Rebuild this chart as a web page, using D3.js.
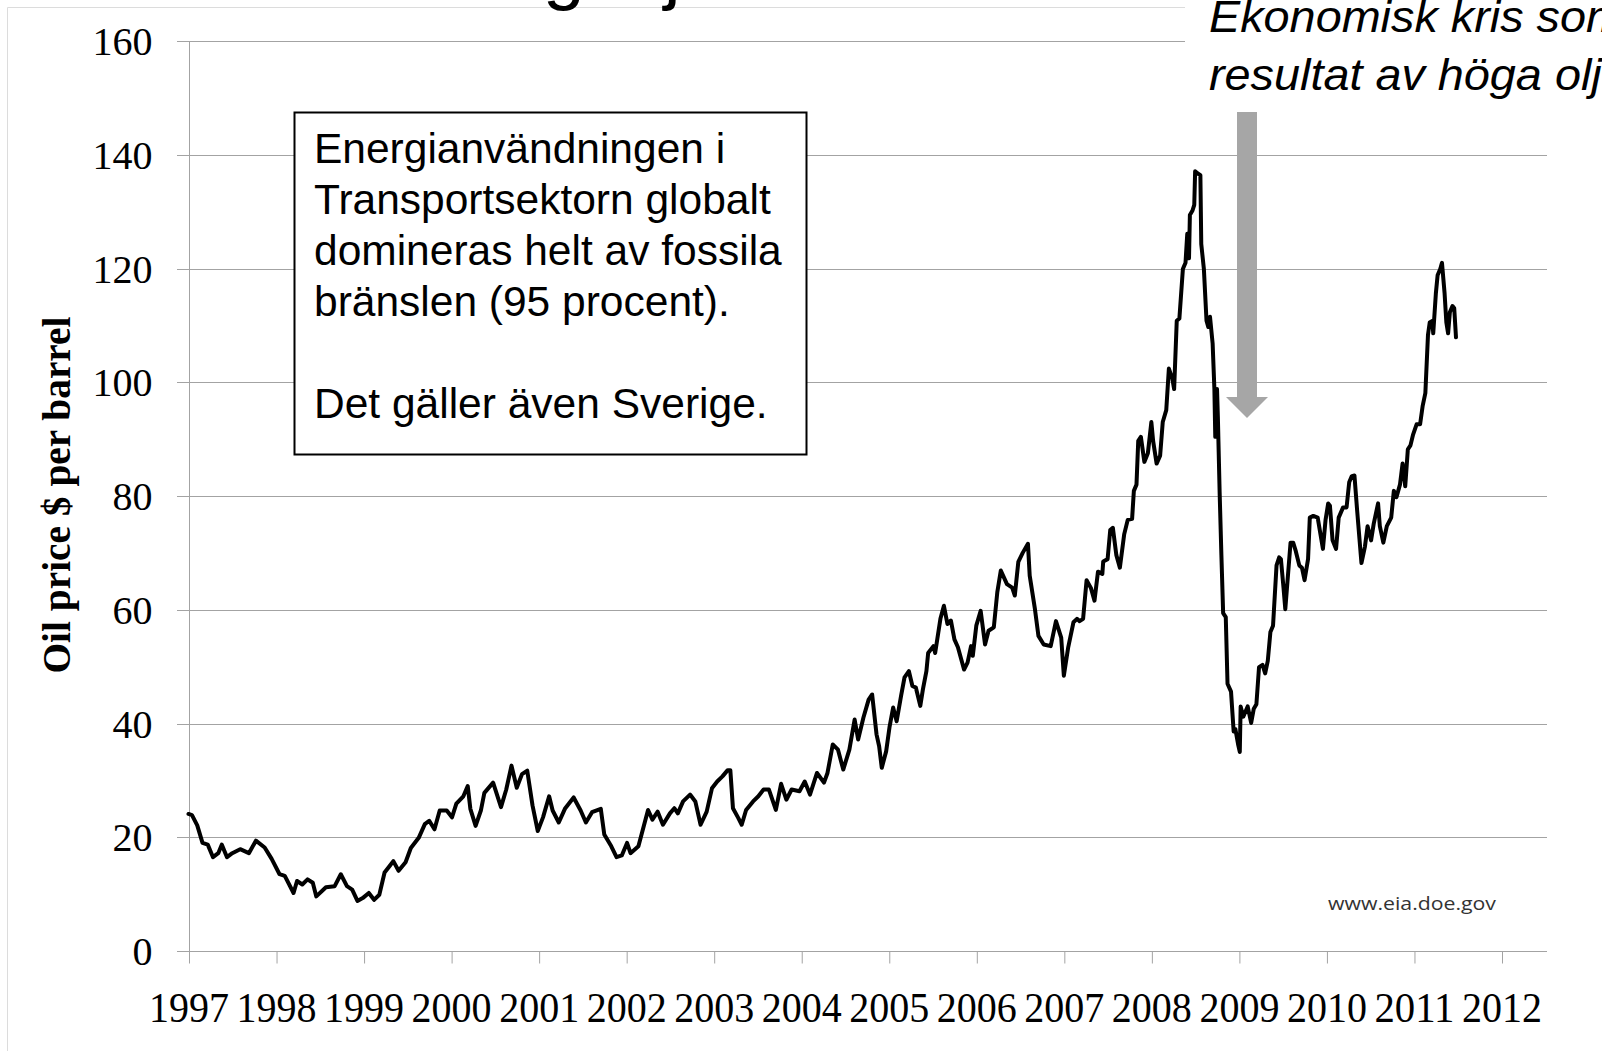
<!DOCTYPE html>
<html>
<head>
<meta charset="utf-8">
<script src="https://cdn.jsdelivr.net/npm/d3@7"></script>
<style>
  html, body { margin: 0; padding: 0; background: #fff; overflow: hidden; }
  svg { display: block; }
</style>
</head>
<body>
<svg id="chart" width="1602" height="1051"></svg>
<script>
// ---- Axis ticks ----
const yearTicks = [1997, 1998, 1999, 2000, 2001, 2002, 2003, 2004, 2005, 2006, 2007, 2008, 2009, 2010, 2011, 2012];
const priceTicks = [0, 20, 40, 60, 80, 100, 120, 140, 160];

// ---- Oil price, $ per barrel (time as decimal year) ----
const date_97_01 = [1997.00, 1997.04, 1997.10, 1997.16, 1997.22, 1997.28, 1997.34, 1997.38, 1997.44, 1997.50,
  1997.59, 1997.69, 1997.77, 1997.87, 1997.95, 1998.04, 1998.10, 1998.20, 1998.24, 1998.30,
  1998.36, 1998.42, 1998.46, 1998.57, 1998.67, 1998.74, 1998.81, 1998.87, 1998.93, 1998.99,
  1999.06, 1999.12, 1999.18, 1999.24, 1999.30, 1999.34, 1999.40, 1999.48, 1999.54, 1999.63,
  1999.70, 1999.75, 1999.81, 1999.87, 1999.95, 2000.01, 2000.06, 2000.14, 2000.19, 2000.22,
  2000.28, 2000.34, 2000.38, 2000.48, 2000.57, 2000.63, 2000.69, 2000.75, 2000.81, 2000.87,
  2000.93, 2000.99, 2001.05, 2001.12, 2001.16, 2001.23, 2001.30, 2001.40, 2001.48, 2001.54,
  2001.61, 2001.71, 2001.75, 2001.83, 2001.89, 2001.95];
const price_97_01 = [24.1, 23.9, 22.1, 19.0, 18.7, 16.5, 17.2, 18.7, 16.5, 17.2,
  17.9, 17.2, 19.4, 18.2, 16.2, 13.5, 13.2, 10.2, 12.3, 11.7,
  12.6, 12.0, 9.6, 11.2, 11.4, 13.5, 11.4, 10.8, 8.8, 9.3,
  10.2, 9.0, 9.9, 13.8, 15.0, 15.8, 14.1, 15.6, 18.1, 19.9,
  22.3, 22.9, 21.4, 24.7, 24.7, 23.5, 25.9, 27.2, 29.0, 25.0,
  22.0, 24.7, 27.8, 29.6, 25.3, 28.4, 32.6, 28.7, 31.1, 31.7,
  25.6, 21.1, 23.5, 27.2, 24.7, 22.6, 25.0, 27.0, 24.7, 22.6,
  24.4, 25.0, 20.5, 18.4, 16.5, 16.8];

const date_02_06 = [2002.01, 2002.05, 2002.14, 2002.25, 2002.30, 2002.36, 2002.42, 2002.50, 2002.55, 2002.59,
  2002.65, 2002.73, 2002.79, 2002.85, 2002.92, 2002.98, 2003.04, 2003.10, 2003.16, 2003.19,
  2003.22, 2003.28, 2003.32, 2003.37, 2003.45, 2003.51, 2003.57, 2003.63, 2003.71, 2003.77,
  2003.83, 2003.89, 2003.98, 2004.04, 2004.10, 2004.18, 2004.26, 2004.30, 2004.36, 2004.42,
  2004.48, 2004.55, 2004.61, 2004.65, 2004.71, 2004.77, 2004.81, 2004.86, 2004.89, 2004.92,
  2004.97, 2005.01, 2005.05, 2005.09, 2005.14, 2005.18, 2005.23, 2005.27, 2005.31, 2005.36,
  2005.39, 2005.43, 2005.45, 2005.51, 2005.53, 2005.59, 2005.63, 2005.67, 2005.71, 2005.75,
  2005.79, 2005.86, 2005.90, 2005.94, 2005.96, 2006.00, 2006.05, 2006.10, 2006.14, 2006.20,
  2006.24, 2006.28, 2006.35, 2006.41, 2006.44, 2006.48, 2006.53, 2006.59, 2006.61, 2006.67,
  2006.71, 2006.77, 2006.85, 2006.91, 2006.97];
const price_02_06 = [19.0, 17.2, 18.4, 24.8, 23.1, 24.5, 22.2, 24.2, 25.1, 24.2,
  26.3, 27.5, 26.3, 22.2, 24.5, 28.6, 29.8, 30.7, 31.8, 31.8,
  25.1, 23.4, 22.2, 24.8, 26.3, 27.2, 28.4, 28.4, 24.8, 29.4,
  26.6, 28.4, 28.1, 29.8, 27.5, 31.3, 29.6, 31.3, 36.3, 35.4,
  31.9, 35.4, 40.7, 37.2, 41.0, 44.2, 45.1, 38.1, 36.0, 32.2,
  35.1, 39.5, 42.8, 40.4, 44.8, 48.1, 49.2, 46.6, 46.3, 43.1,
  46.0, 49.2, 52.4, 53.6, 52.4, 58.4, 60.7, 57.5, 58.1, 54.8,
  53.4, 49.5, 50.7, 53.6, 51.9, 57.2, 59.8, 53.9, 56.3, 56.9,
  63.1, 66.9, 64.5, 63.9, 62.5, 68.4, 70.0, 71.6, 66.0, 60.1,
  55.4, 53.9, 53.6, 58.0, 55.1];

const date_07_11 = [2007.00, 2007.05, 2007.11, 2007.15, 2007.18, 2007.22, 2007.26, 2007.31, 2007.35, 2007.39,
  2007.44, 2007.45, 2007.50, 2007.53, 2007.56, 2007.60, 2007.64, 2007.69, 2007.73, 2007.78,
  2007.80, 2007.83, 2007.85, 2007.88, 2007.92, 2007.96, 2008.00, 2008.02, 2008.06, 2008.10,
  2008.13, 2008.17, 2008.20, 2008.24, 2008.26, 2008.29, 2008.32, 2008.36, 2008.39, 2008.41,
  2008.43, 2008.44, 2008.47, 2008.49, 2008.50, 2008.53, 2008.56, 2008.57, 2008.60, 2008.63,
  2008.65, 2008.67, 2008.70, 2008.72, 2008.73, 2008.75, 2008.76, 2008.78, 2008.80, 2008.82,
  2008.85, 2008.87, 2008.91, 2008.94, 2008.96, 2008.99, 2009.01, 2009.02, 2009.05, 2009.10,
  2009.14, 2009.17, 2009.20, 2009.23, 2009.27, 2009.30, 2009.33, 2009.36, 2009.39, 2009.43,
  2009.46, 2009.48, 2009.51, 2009.53, 2009.59, 2009.62, 2009.65, 2009.69, 2009.72, 2009.75,
  2009.79, 2009.81, 2009.85, 2009.90, 2009.96, 2009.99, 2010.02, 2010.04, 2010.07, 2010.11,
  2010.14, 2010.19, 2010.23, 2010.26, 2010.29, 2010.32, 2010.35, 2010.40, 2010.44, 2010.47,
  2010.51, 2010.54, 2010.59, 2010.61, 2010.65, 2010.69, 2010.74, 2010.77, 2010.80, 2010.84,
  2010.87, 2010.90, 2010.93, 2010.96, 2010.99, 2011.03, 2011.07, 2011.10, 2011.13, 2011.16,
  2011.18, 2011.21, 2011.22, 2011.25, 2011.27, 2011.30, 2011.32, 2011.35, 2011.37, 2011.39,
  2011.41, 2011.44, 2011.46, 2011.48];
const price_07_11 = [48.4, 53.4, 57.8, 58.4, 58.0, 58.4, 65.2, 63.8, 61.6, 66.7,
  66.3, 68.5, 68.9, 74.0, 74.4, 69.6, 67.4, 73.3, 75.8, 76.0,
  80.9, 82.0, 89.7, 90.4, 86.0, 87.5, 93.0, 89.7, 85.7, 87.1,
  93.0, 95.1, 102.4, 100.6, 98.8, 110.8, 111.2, 119.9, 121.0, 126.1,
  121.8, 129.4, 130.2, 131.2, 137.1, 136.7, 136.4, 124.3, 119.9, 110.8,
  109.7, 111.5, 106.8, 98.8, 90.4, 98.8, 93.7, 80.6, 69.6, 59.4,
  58.7, 47.0, 45.6, 38.6, 39.0, 36.4, 35.0, 43.0, 41.2, 43.0,
  40.1, 42.6, 43.4, 49.9, 50.3, 48.8, 51.0, 56.1, 57.2, 67.8,
  69.2, 68.9, 63.8, 60.1, 71.8, 71.8, 70.3, 67.8, 67.4, 65.2,
  68.9, 76.2, 76.5, 76.2, 70.7, 75.8, 78.7, 78.3, 72.2, 70.7,
  76.2, 78.0, 78.0, 82.4, 83.5, 83.6, 77.6, 68.2, 71.1, 74.7,
  72.2, 75.1, 78.7, 74.7, 71.8, 74.7, 76.2, 80.9, 79.8, 82.0,
  85.7, 81.7, 88.2, 88.9, 90.8, 92.6, 92.6, 95.9, 98.1, 108.3,
  110.5, 110.8, 108.6, 115.6, 118.8, 119.9, 121.0, 115.6, 110.5, 108.6,
  112.3, 113.4, 113.0, 107.9];

// ---- Text ----
const titleText = "Beroende av billig olja";
const boxLines = ["Energianvändningen i", "Transportsektorn globalt", "domineras helt av fossila", "bränslen (95 procent).", "", "Det gäller även Sverige."];
const noteLines = ["Ekonomisk kris som", "resultat av höga oljepriser"];
const sourceText = "www.eia.doe.gov";
const yTitle = "Oil price $ per barrel";

// ---- Layout ----
const plot = { left: 188.5, right: 1547, top: 41, bottom: 951 };
const x = d3.scaleLinear().domain([1997, 2012]).range([plot.left, 1501.5]);
const y = d3.scaleLinear().domain([0, 160]).range([plot.bottom, plot.top]);
const crisp = v => Math.round(v) + 0.5;

const svg = d3.select("#chart");
svg.append("rect").attr("width", 1602).attr("height", 1051).attr("fill", "#fff");

// light slide frame
svg.append("path").attr("d", "M7.5,1051 V7.5 H1602")
  .attr("fill", "none").attr("stroke", "#dcdcdc").attr("stroke-width", 1);

// slide title (only its descenders fall inside the view)
const title = svg.append("text")
  .attr("font-family", "Liberation Sans, Arial, sans-serif")
  .attr("font-size", 75).attr("fill", "#000")
  .attr("y", -4).text(titleText);
const gIndex = titleText.indexOf("g ");
const gOffset = title.node().getStartPositionOfChar(gIndex).x;
title.attr("x", 543 - gOffset);

// gridlines (extend left of the axis as tick stubs)
svg.append("g").selectAll("line").data(priceTicks).join("line")
  .attr("x1", 177).attr("x2", plot.right)
  .attr("y1", d => crisp(y(d))).attr("y2", d => crisp(y(d)))
  .attr("stroke", "#a3a3a3").attr("stroke-width", 1);

// y axis line
svg.append("line")
  .attr("x1", crisp(x(1997))).attr("x2", crisp(x(1997)))
  .attr("y1", crisp(y(160))).attr("y2", crisp(y(0)))
  .attr("stroke", "#a3a3a3").attr("stroke-width", 1);

// y axis labels
const gY = svg.append("g")
  .attr("transform", `translate(${x(1997)},0)`)
  .call(d3.axisLeft(y).tickValues(priceTicks).tickSize(0).tickPadding(36).tickFormat(d3.format("d")));
gY.select(".domain").remove();
gY.selectAll("text")
  .attr("font-family", "Liberation Serif, Times New Roman, serif")
  .attr("font-size", 40).attr("fill", "#000")
  .attr("dy", "0.34em");

// x axis ticks + labels
const gX = svg.append("g")
  .attr("transform", `translate(0,${crisp(y(0))})`)
  .call(d3.axisBottom(x).tickValues(yearTicks).tickSize(12).tickPadding(28).tickFormat(d3.format("d")));
gX.select(".domain").remove();
gX.selectAll(".tick line").attr("stroke", "#a3a3a3").attr("transform", "translate(0.5,0)");
gX.selectAll("text")
  .attr("font-family", "Liberation Serif, Times New Roman, serif")
  .attr("font-size", 43).attr("fill", "#000")
  .attr("textLength", 80).attr("lengthAdjust", "spacingAndGlyphs");

// y axis title
svg.append("text")
  .attr("transform", "translate(70,495) rotate(-90)")
  .attr("text-anchor", "middle")
  .attr("font-family", "Liberation Serif, Times New Roman, serif")
  .attr("font-weight", "bold").attr("font-size", 40)
  .attr("textLength", 357).attr("lengthAdjust", "spacingAndGlyphs")
  .text(yTitle);

// price line
const series = [].concat(
  date_97_01.map((t, i) => ({ t, v: price_97_01[i] })),
  date_02_06.map((t, i) => ({ t, v: price_02_06[i] })),
  date_07_11.map((t, i) => ({ t, v: price_07_11[i] }))
).sort((a, b) => a.t - b.t);
svg.append("path").datum(series)
  .attr("d", d3.line().x(d => x(d.t)).y(d => y(d.v)))
  .attr("fill", "none").attr("stroke", "#000")
  .attr("stroke-width", 4).attr("stroke-linejoin", "round").attr("stroke-linecap", "round");

// source
svg.append("text")
  .attr("x", 1328).attr("y", 910)
  .attr("font-family", "Open Sans, Lato, sans-serif")
  .attr("font-size", 19).attr("fill", "#333")
  .attr("textLength", 168).attr("lengthAdjust", "spacingAndGlyphs")
  .text(sourceText);

// text box
svg.append("rect")
  .attr("x", 294.5).attr("y", 112.5).attr("width", 512).attr("height", 342)
  .attr("fill", "#fff").attr("stroke", "#000").attr("stroke-width", 2);
const box = svg.append("text")
  .attr("font-family", "Liberation Sans, Arial, sans-serif")
  .attr("font-size", 42.5).attr("fill", "#000");
boxLines.forEach((line, i) => {
  box.append("tspan").attr("x", 314).attr("y", 163 + i * 51).text(line);
});

// crisis note (runs off the right edge of the slide)
svg.append("rect").attr("x", 1185).attr("y", 0).attr("width", 417).attr("height", 104).attr("fill", "#fff");
const note = svg.append("text")
  .attr("transform", "translate(1209,0) scale(1.04,1)")
  .attr("font-family", "Liberation Sans, Arial, sans-serif")
  .attr("font-style", "italic").attr("font-size", 45).attr("fill", "#000");
noteLines.forEach((line, i) => {
  note.append("tspan").attr("x", 0).attr("y", 32 + i * 58).text(line);
});

// arrow pointing at the 2009 collapse
const ax = 1247;
svg.append("path")
  .attr("d", `M${ax - 10},112 H${ax + 10} V397 H${ax + 21} L${ax},418 L${ax - 21},397 H${ax - 10} Z`)
  .attr("fill", "#a6a6a6");
</script>
</body>
</html>
